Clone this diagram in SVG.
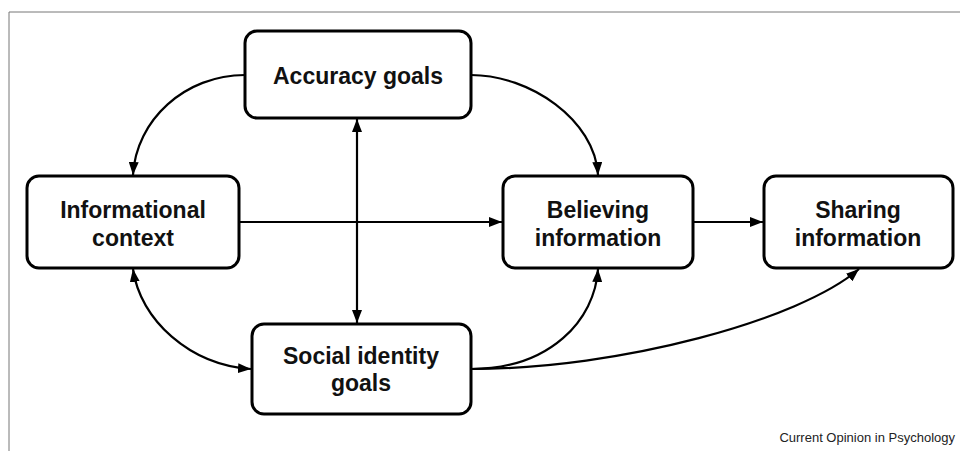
<svg xmlns="http://www.w3.org/2000/svg" width="960" height="451" viewBox="0 0 960 451">
<style>
.box{fill:#fff;stroke:#000;stroke-width:3}
.t{font-family:"Liberation Sans",Arial,sans-serif;font-weight:bold;font-size:23px;fill:#111;text-anchor:middle}
.c{fill:none;stroke:#000;stroke-width:2.2}
.src{font-family:"Liberation Sans",Arial,sans-serif;font-size:13px;fill:#222;text-anchor:end}
</style>
<defs>
<marker id="ah" viewBox="0 0 13 10" refX="13" refY="5" markerWidth="13" markerHeight="10" markerUnits="userSpaceOnUse" orient="auto-start-reverse">
<path d="M0,0 L13,5 L0,10 Z" fill="#000"/>
</marker>
</defs>
<rect width="960" height="451" fill="#fff"/>
<path d="M9,451 V12 H960" fill="none" stroke="#777" stroke-width="1"/>
<g id="connectors">
<path class="c" d="M245,75 C185,75 136,120 133,175" marker-end="url(#ah)"/>
<path class="c" d="M471,75 C530,75 595,120 598,175" marker-end="url(#ah)"/>
<path class="c" d="M239,222 H502" marker-end="url(#ah)"/>
<path class="c" d="M693,222 H763" marker-end="url(#ah)"/>
<path class="c" d="M357,119 V323" marker-start="url(#ah)" marker-end="url(#ah)"/>
<path class="c" d="M133,269 C140,320 190,365 251,369" marker-start="url(#ah)" marker-end="url(#ah)"/>
<path class="c" d="M471,369 C550,369 595,320 598,269" marker-end="url(#ah)"/>
<path class="c" d="M471,369 C620,369 800,320 859,269" marker-end="url(#ah)"/>
</g>
<g id="accuracy">
<rect class="box" x="245" y="31" width="226" height="87" rx="12"/>
<text class="t" x="358" y="84">Accuracy goals</text>
</g>
<g id="informational">
<rect class="box" x="27" y="176" width="212" height="92" rx="12"/>
<text class="t" x="133" y="218">Informational</text>
<text class="t" x="133" y="246">context</text>
</g>
<g id="believing">
<rect class="box" x="503" y="176" width="190" height="92" rx="12"/>
<text class="t" x="598" y="218">Believing</text>
<text class="t" x="598" y="246">information</text>
</g>
<g id="sharing">
<rect class="box" x="764" y="176" width="189" height="92" rx="12"/>
<text class="t" x="858" y="218">Sharing</text>
<text class="t" x="858" y="246">information</text>
</g>
<g id="social">
<rect class="box" x="252" y="324" width="219" height="90" rx="12"/>
<text class="t" x="361" y="364">Social identity</text>
<text class="t" x="361" y="391">goals</text>
</g>
<text class="src" x="955" y="442">Current Opinion in Psychology</text>
</svg>
